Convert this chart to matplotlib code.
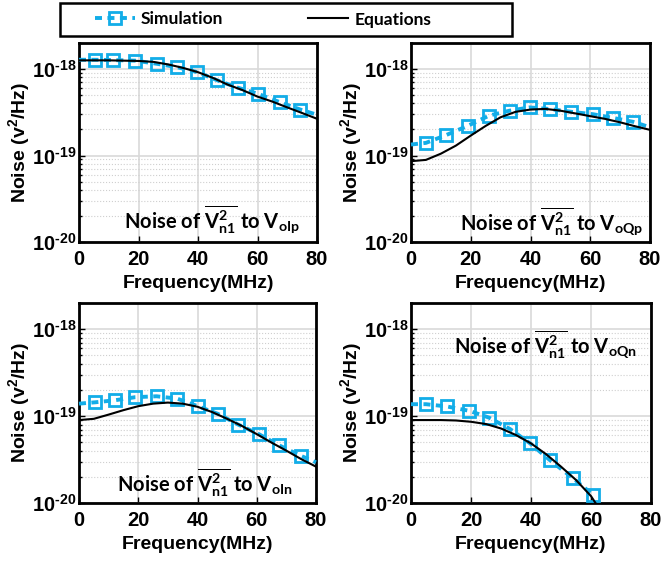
import numpy as np
import matplotlib
matplotlib.use('Agg')
import matplotlib.pyplot as plt
from matplotlib.lines import Line2D
from matplotlib.patches import Rectangle
from matplotlib.ticker import FuncFormatter

plt.rcParams['mathtext.fontset'] = 'custom'
plt.rcParams['mathtext.rm'] = 'Liberation Sans:bold'
plt.rcParams['mathtext.it'] = 'Liberation Sans:bold'
plt.rcParams['mathtext.bf'] = 'Liberation Sans:bold'
plt.rcParams['mathtext.sf'] = 'Lato:bold'
plt.rcParams['font.family'] = 'Liberation Sans'
plt.rcParams['font.weight'] = 'bold'

SIM_COLOR = '#12ADE8'

# simulation (first and last points are line ends, the rest carry markers)
sim_f_olp = [0, 5.3, 11.3, 18.9, 26.2, 33, 39.8, 46.5, 53.3, 60, 67.4, 74.4, 80]
sim_olp = [1.28e-18, 1.28e-18, 1.27e-18, 1.25e-18, 1.15e-18, 1.05e-18, 9.2e-19,
           7.4e-19, 6.1e-19, 5.2e-19, 4.15e-19, 3.4e-19, 2.96e-19]
sim_f_oqp = [0, 5.0, 11.7, 19.2, 26.2, 33, 39.7, 46.4, 53.7, 61, 67.7, 74.4, 80]
sim_oqp = [1.34e-19, 1.40e-19, 1.72e-19, 2.22e-19, 2.9e-19, 3.3e-19, 3.6e-19,
           3.45e-19, 3.2e-19, 3.0e-19, 2.72e-19, 2.45e-19, 2.12e-19]
sim_f_oin = [0, 5.4, 12.1, 19, 26.2, 33.1, 40.1, 46.9, 53.7, 60.7, 67.6, 74.8, 80]
sim_oin = [1.39e-19, 1.44e-19, 1.52e-19, 1.65e-19, 1.69e-19, 1.59e-19, 1.30e-19,
           1.06e-19, 8.0e-20, 6.2e-20, 4.6e-20, 3.5e-20, 2.94e-20]
sim_f_oqn = [0, 5.0, 12, 19.4, 26, 33, 39.7, 46.4, 53.9, 60.7]
sim_oqn = [1.37e-19, 1.37e-19, 1.29e-19, 1.15e-19, 9.6e-20, 7.1e-20, 4.85e-20,
           3.09e-20, 1.94e-20, 1.24e-20]

# equations
eq_f = [0, 5, 10, 15, 20, 25, 30, 35, 40, 45, 50, 55, 60, 65, 70, 75, 80]
eq_olp = [1.26e-18, 1.26e-18, 1.26e-18, 1.25e-18, 1.24e-18, 1.21e-18, 1.13e-18,
          1.03e-18, 9.2e-19, 7.9e-19, 6.6e-19, 5.7e-19, 4.8e-19, 4.2e-19,
          3.6e-19, 3.1e-19, 2.66e-19]
eq_oqp = [8.6e-20, 8.9e-20, 1.05e-19, 1.3e-19, 1.7e-19, 2.2e-19, 2.77e-19,
          3.2e-19, 3.4e-19, 3.46e-19, 3.3e-19, 3.07e-19, 2.85e-19, 2.65e-19,
          2.42e-19, 2.18e-19, 1.98e-19]
eq_oin = [9.0e-20, 9.3e-20, 1.04e-19, 1.17e-19, 1.30e-19, 1.39e-19, 1.43e-19,
          1.39e-19, 1.28e-19, 1.11e-19, 9.3e-20, 7.7e-20, 6.2e-20, 4.95e-20,
          4.0e-20, 3.2e-20, 2.62e-20]
eq_f_oqn = [0, 5, 10, 15, 20, 25, 30, 35, 40, 45, 50, 55, 60, 61.5]
eq_oqn = [9.0e-20, 9.0e-20, 9.0e-20, 8.9e-20, 8.6e-20, 8.1e-20, 7.2e-20,
          6.05e-20, 4.85e-20, 3.65e-20, 2.62e-20, 1.84e-20, 1.2e-20, 1.0e-20]

labels = [r'Noise of $\overline{\mathsf{V}_{\mathsf{n1}}^{\mathsf{2}}}$ to V$_{\mathsf{oIp}}$',
          r'Noise of $\overline{\mathsf{V}_{\mathsf{n1}}^{\mathsf{2}}}$ to V$_{\mathsf{oQp}}$',
          r'Noise of $\overline{\mathsf{V}_{\mathsf{n1}}^{\mathsf{2}}}$ to V$_{\mathsf{oIn}}$',
          r'Noise of $\overline{\mathsf{V}_{\mathsf{n1}}^{\mathsf{2}}}$ to V$_{\mathsf{oQn}}$']
label_pos = [(0.19, 0.11), (0.205, 0.10), (0.16, 0.10), (0.18, 0.79)]

panels = [
    (sim_f_olp, sim_olp, slice(1, -1), eq_f, eq_olp),
    (sim_f_oqp, sim_oqp, slice(1, -1), eq_f, eq_oqp),
    (sim_f_oin, sim_oin, slice(1, -1), eq_f, eq_oin),
    (sim_f_oqn, sim_oqn, slice(1, None), eq_f_oqn, eq_oqn),
]

W, H = 664, 561
boxes = [(79, 43, 317, 242), (411, 43, 650, 242),
         (79, 303, 316, 503), (411, 303, 651, 503)]


def dec_fmt(v, pos):
    # matlab-style label with a short hyphen in the exponent
    e = int(round(np.log10(v)))
    return r'$10^{\text{-}%d}$' % (-e)


fig = plt.figure(figsize=(W / 100, H / 100), dpi=100)

for i, (sf, sv, mk, ef, ev) in enumerate(panels):
    x0, y0, x1, y1 = boxes[i]
    ax = fig.add_axes([x0 / W, 1 - y1 / H, (x1 - x0) / W, (y1 - y0) / H])
    ax.set_yscale('log')
    ax.plot(sf, sv, color=SIM_COLOR, lw=2.8, ls=(0, (1.8, 1.4)),
            marker='s', ms=8, mfc='none', mew=2, markevery=mk, clip_on=False, zorder=3)
    ax.plot(ef, ev, color='black', lw=1.5, zorder=4)
    ax.set_xlim(0, 80)
    ax.set_ylim(1e-20, 2e-18)
    ax.set_xticks([0, 20, 40, 60, 80])
    ax.set_yticks([1e-20, 1e-19, 1e-18])
    ax.yaxis.set_major_formatter(FuncFormatter(dec_fmt))
    ax.grid(True, which='major', color='#d9d9d9', lw=1.2)
    ax.grid(True, which='minor', axis='y', color='#cfcfcf', lw=0.8, ls=':')
    ax.tick_params(which='both', direction='in', labelsize=14.5, width=1)
    ax.tick_params(which='major', length=4)
    ax.tick_params(which='minor', length=2)
    ax.tick_params(axis='x', which='minor', bottom=False)
    ax.tick_params(axis='x', pad=6)
    ax.tick_params(axis='y', pad=2)
    for s in ax.spines.values():
        s.set_linewidth(2)
    ax.set_xlabel('Frequency(MHz)', fontsize=14, fontweight='bold', labelpad=4)
    ax.set_ylabel('Noise (v$^2$/Hz)', fontsize=14, fontweight='bold', labelpad=0)
    ax.text(label_pos[i][0], label_pos[i][1], labels[i], transform=ax.transAxes,
            fontsize=14.5, family='Lato', fontweight='bold', va='center', ha='left',
            zorder=5)

# legend frame drawn separately so the entries sit where they do in the original
fig.patches.append(Rectangle((60 / W, 1 - 36 / H), 452 / W, 33 / H,
                             transform=fig.transFigure, fill=False,
                             edgecolor='black', lw=1.8))
handles = [Line2D([], [], color=SIM_COLOR, lw=2.8, ls=(0, (1.8, 1.4)), marker='s',
                  ms=8, mfc='none', mew=2),
           Line2D([], [], color='black', lw=1.5)]
fig.legend(handles, ['Simulation', 'Equations'], ncol=2, frameon=False,
           bbox_to_anchor=(95 / W, 1 - 19.5 / H), loc='center left',
           prop={'family': 'Lato', 'weight': 'bold', 'size': 12.5},
           handlelength=2.3, handletextpad=0.35, columnspacing=4.9,
           borderpad=0, borderaxespad=0)

fig.savefig('out.png', dpi=100)
